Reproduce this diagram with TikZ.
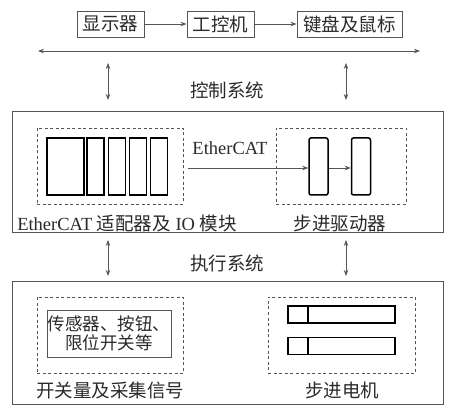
\documentclass[tikz,border=0pt]{standalone}
\usepackage{fontspec}
\setmainfont{Liberation Serif}
\newfontfamily\cjk{Noto Sans CJK SC}
\usetikzlibrary{arrows.meta}
\definecolor{ln}{HTML}{555555}
\definecolor{tx}{HTML}{2A2A2A}
\tikzset{
  arr/.style={draw=ln, line width=0.9pt, -{Stealth[length=6pt,width=4.5pt]}},
  darr/.style={draw=ln, line width=0.9pt, {Stealth[length=6pt,width=4.5pt]}-{Stealth[length=6pt,width=4.5pt]}},
  topbox/.style={draw=ln, line width=0.9pt, inner sep=0pt, minimum height=26pt, font=\cjk\fontsize{18.5}{20}\selectfont, text=tx},
  frame/.style={draw=ln, line width=1pt, inner sep=0pt},
  dbox/.style={draw=ln, line width=0.9pt, dashed, dash pattern=on 3pt off 2.5pt, inner sep=0pt, minimum width=146pt, minimum height=76pt},
  mod/.style={draw=black, line width=1.8pt, inner sep=0pt, minimum height=57pt},
  drv/.style={draw=black, line width=1.5pt, rounded corners=2pt, inner sep=0pt, minimum width=19pt, minimum height=57pt},
  mot/.style={draw=black, line width=1.5pt, inner sep=0pt, minimum width=107pt, minimum height=17pt},
  lbl/.style={inner sep=0pt, text=tx, font=\fontsize{18.5}{20}\selectfont},
  zlbl/.style={lbl, font=\cjk\fontsize{18.5}{20}\selectfont},
}
\begin{document}
\begin{tikzpicture}[x=1pt,y=-1pt]
\useasboundingbox (0,0) rectangle (450,414);
% top row
\node[topbox, minimum width=67pt] (disp) at (110.5,24) {显示器};
\node[topbox, minimum width=67pt] (ipc) at (220.5,24) {工控机};
\node[topbox, minimum width=105pt] (kbd) at (349.5,24) {键盘及鼠标};
\draw[arr] (disp) -- (ipc);
\draw[arr] (ipc) -- (kbd);
% bus line
\coordinate (busL) at (38,51);
\coordinate (busR) at (420,51);
\draw[darr] (busL) -- (busR);
% control system arrows
\coordinate (a1t) at (108,63);
\coordinate (a1b) at (108,100);
\coordinate (a2t) at (346,63);
\coordinate (a2b) at (346,100);
\draw[darr] (a1t) -- (a1b);
\draw[darr] (a2t) -- (a2b);
\node[zlbl] (ctl) at (227,90) {控制系统};
% middle frame
\node[frame, minimum width=431pt, minimum height=121pt] (mid) at (227.5,172.5) {};
\node[dbox] (ldash) at (110,166) {};
\node[dbox, minimum width=130pt] (rdash) at (341,166) {};
\node[mod, minimum width=37pt] (m0) at (65.5,166.5) {};
\node[mod, minimum width=17pt] (m1) at (95.5,166.5) {};
\node[mod, minimum width=17pt] (m2) at (117,166.5) {};
\node[mod, minimum width=17pt] (m3) at (138,166.5) {};
\node[mod, minimum width=17pt] (m4) at (159,166.5) {};
\node[drv] (d1) at (318.5,166.5) {};
\node[drv] (d2) at (361,166.5) {};
\node[lbl] (ecat) at (230,148) {EtherCAT};
\coordinate (es) at (188,168);
\draw[arr] (es) -- (d1.west |- es);
\draw[arr] (d1.east |- es) -- (d2.west |- es);
\node[lbl] (ladap) at (127,223) {EtherCAT {\cjk 适配器及} IO {\cjk 模块}};
\node[zlbl] (ldrv) at (340,223) {步进驱动器};
% execution arrows
\coordinate (b1t) at (108,240);
\coordinate (b1b) at (108,276);
\coordinate (b2t) at (346,240);
\coordinate (b2b) at (346,276);
\draw[darr] (b1t) -- (b1b);
\draw[darr] (b2t) -- (b2b);
\node[zlbl] (exe) at (227,263) {执行系统};
% bottom frame
\node[frame, minimum width=431pt, minimum height=122pt] (bot) at (227.5,343) {};
\node[dbox] (bldash) at (110,335) {};
\node[dbox, minimum width=147pt] (brdash) at (341.5,335) {};
\node[draw=ln, line width=0.9pt, inner sep=0pt, minimum width=124pt, minimum height=47pt, text=tx, align=center, font=\cjk\fontsize{17.5}{19}\selectfont] (sens) at (109,333.5) {传感器、按钮、\\限位开关等};
\node[mot] (mo1) at (341.5,314.5) {};
\node[mot] (mo2) at (341.5,346) {};
\draw[black, line width=1.5pt] (308,0 |- mo1.north) -- (308,0 |- mo1.south);
\draw[black, line width=1.5pt] (308,0 |- mo2.north) -- (308,0 |- mo2.south);
\node[zlbl] (lsw) at (110,390) {开关量及采集信号};
\node[zlbl] (lmot) at (342,390) {步进电机};
\end{tikzpicture}
\end{document}
